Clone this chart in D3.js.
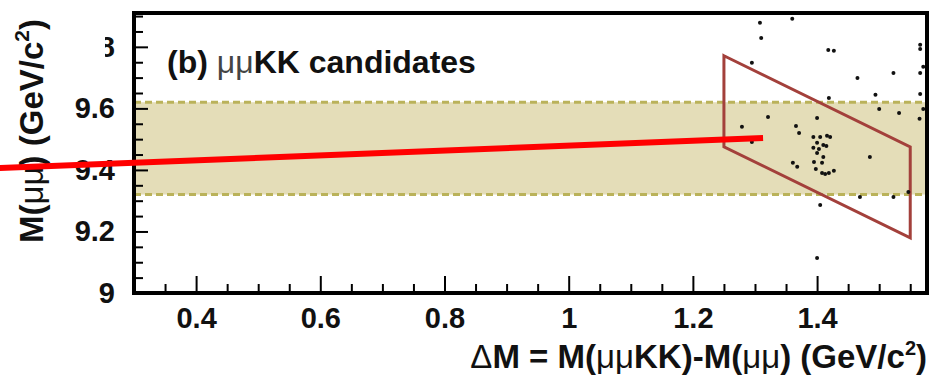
<!DOCTYPE html>
<html><head><meta charset="utf-8">
<script src="https://cdn.jsdelivr.net/npm/d3@7"></script>
<style>body{margin:0;background:#fff}</style>
</head><body>
<svg id="chart" width="930" height="385"></svg>
<script>
// Axis ranges and ticks
const xDomain = [0.3, 1.577];
const yDomain = [9.0, 9.91];
const xMajorTicks = [0.4, 0.6, 0.8, 1.0, 1.2, 1.4];
const xTickLabels = ["0.4", "0.6", "0.8", "1", "1.2", "1.4"];
const xMinorTicks = [0.35,0.45,0.5,0.55,0.65,0.7,0.75,0.85,0.9,0.95,1.05,1.1,1.15,1.25,1.3,1.35,1.45,1.5,1.55];
const yMajorTicks = [9.0, 9.2, 9.4, 9.6, 9.8];
const yTickLabels = ["9", "9.2", "9.4", "9.6", "9.8"];
const yMinorTicks = [9.05,9.1,9.15,9.25,9.3,9.35,9.45,9.5,9.55,9.65,9.7,9.75,9.85,9.9];

// Upsilon(1S) mass window on M(mumu)
const upsilonBand = [9.32, 9.62];

// Signal region: 1.25 < dM < 1.55, 10.725 < M(mumuKK) < 11.02 (corners in dM, M(mumu))
const signalBoxDM = [1.25, 1.55, 1.55, 1.25];
const signalBoxM  = [9.771, 9.475, 9.179, 9.475];

// Candidate events
const candDM = [1.308,1.360,1.310,1.418,1.427,1.295,1.566,1.566,1.571,1.523,1.566,1.465,1.494,1.566,1.419,1.500,1.532,1.571,1.565,1.400,1.321,1.279,1.366,1.371,1.295,1.394,1.405,1.416,1.421,1.400,1.410,1.415,1.394,1.403,1.400,1.410,1.395,1.408,1.361,1.368,1.398,1.408,1.413,1.419,1.427,1.485,1.547,1.469,1.523,1.405,1.400];
const candM  = [9.878,9.891,9.829,9.790,9.787,9.748,9.807,9.793,9.735,9.715,9.715,9.699,9.644,9.647,9.634,9.598,9.585,9.598,9.566,9.569,9.572,9.540,9.543,9.520,9.491,9.507,9.507,9.511,9.507,9.488,9.481,9.478,9.472,9.468,9.455,9.442,9.426,9.423,9.423,9.410,9.403,9.390,9.387,9.390,9.397,9.442,9.328,9.312,9.312,9.286,9.114];

// Highlight pointer line (dM, M(mumu)) end points
const pointerDM = [0.084, 1.313];
const pointerM  = [9.406, 9.504];

const svg = d3.select("#chart");
const plotL = 134, plotR = 927, plotT = 13, plotB = 293;
const x = d3.scaleLinear().domain(xDomain).range([plotL, plotR]);
const y = d3.scaleLinear().domain(yDomain).range([plotB, plotT]);

const FONT = "'Liberation Sans', Arial, sans-serif";

// Band
svg.append("rect")
  .attr("x", plotL).attr("width", plotR - plotL)
  .attr("y", y(upsilonBand[1])).attr("height", y(upsilonBand[0]) - y(upsilonBand[1]))
  .attr("fill", "#e4ddb8");
upsilonBand.forEach(v => {
  svg.append("line")
    .attr("x1", plotL).attr("x2", plotR)
    .attr("y1", y(v)).attr("y2", y(v))
    .attr("stroke", "#bab25a").attr("stroke-width", 3)
    .attr("stroke-dasharray", "7,4");
});

// Signal region outline
const boxPts = signalBoxDM.map((d, i) => [x(d), y(signalBoxM[i])]);
svg.append("path")
  .attr("d", d3.line()(boxPts) + "Z")
  .attr("fill", "none").attr("stroke", "#a3403b").attr("stroke-width", 3);

// Candidates
svg.append("g").selectAll("circle")
  .data(candDM.map((d, i) => [d, candM[i]]))
  .join("circle")
  .attr("cx", d => x(d[0])).attr("cy", d => y(d[1]))
  .attr("r", 2).attr("fill", "#111");

// Axes with inward ticks
const xAxis = svg.append("g").attr("transform", `translate(0,${plotB})`)
  .call(d3.axisBottom(x).tickValues(xMajorTicks)
    .tickFormat((d, i) => xTickLabels[i]).tickSize(-17).tickPadding(14));
const xMinor = svg.append("g").attr("transform", `translate(0,${plotB})`)
  .call(d3.axisBottom(x).tickValues(xMinorTicks).tickFormat("").tickSize(-9));
const yAxis = svg.append("g").attr("transform", `translate(${plotL},0)`)
  .call(d3.axisLeft(y).tickValues(yMajorTicks)
    .tickFormat((d, i) => yTickLabels[i]).tickSize(-14).tickPadding(19));
const yMinor = svg.append("g").attr("transform", `translate(${plotL},0)`)
  .call(d3.axisLeft(y).tickValues(yMinorTicks).tickFormat("").tickSize(-9));

[xAxis, xMinor, yAxis, yMinor].forEach(g => {
  g.select(".domain").remove();
  g.selectAll(".tick line").attr("stroke", "#000").attr("stroke-width", 2);
  g.selectAll(".tick text")
    .attr("font-family", FONT).attr("font-weight", "bold")
    .attr("font-size", 29).attr("fill", "#111");
});

// Top tick label is partly hidden behind the axis title area
// (clip rect is in the tick's own coordinates: origin at the tick position)
svg.append("clipPath").attr("id", "topLabelClip")
  .append("rect").attr("x", 105 - plotL).attr("y", -40).attr("width", 60).attr("height", 80);
yAxis.selectAll(".tick").filter(d => d === 9.8).select("text")
  .attr("clip-path", "url(#topLabelClip)");

// Frame
svg.append("rect")
  .attr("x", plotL).attr("y", plotT)
  .attr("width", plotR - plotL).attr("height", plotB - plotT)
  .attr("fill", "none").attr("stroke", "#000").attr("stroke-width", 4);

// Panel title
const title = svg.append("text")
  .attr("x", 167).attr("y", 73)
  .attr("font-family", FONT).attr("font-weight", "bold")
  .attr("font-size", 32).attr("fill", "#111");
title.append("tspan").text("(b) ");
title.append("tspan").attr("font-weight", "normal").attr("fill", "#444").text("\u03bc\u03bc");
title.append("tspan").text("KK candidates");

// X axis title
const xt = svg.append("text")
  .attr("x", 927).attr("y", 368).attr("text-anchor", "end")
  .attr("font-family", FONT).attr("font-weight", "bold")
  .attr("font-size", 33).attr("fill", "#111");
xt.append("tspan").attr("font-weight", "normal").text("\u0394");
xt.append("tspan").text("M = M(");
xt.append("tspan").attr("font-weight", "normal").text("\u03bc\u03bc");
xt.append("tspan").text("KK)-M(");
xt.append("tspan").attr("font-weight", "normal").text("\u03bc\u03bc");
xt.append("tspan").text(") (GeV/c");
xt.append("tspan").attr("font-size", 20).attr("dy", -13).text("2");
xt.append("tspan").attr("dy", 13).text(")");

// Y axis title
const yt = svg.append("text")
  .attr("transform", "translate(43,131) rotate(-90)")
  .attr("text-anchor", "middle")
  .attr("font-family", FONT).attr("font-weight", "bold")
  .attr("font-size", 33).attr("fill", "#111");
yt.append("tspan").text("M(");
yt.append("tspan").attr("font-weight", "normal").text("\u03bc\u03bc");
yt.append("tspan").text(") (GeV/c");
yt.append("tspan").attr("font-size", 21).attr("dy", -14).text("2");
yt.append("tspan").attr("dy", 14).text(")");

// Pointer line
svg.append("line")
  .attr("x1", x(pointerDM[0])).attr("y1", y(pointerM[0]))
  .attr("x2", x(pointerDM[1])).attr("y2", y(pointerM[1]))
  .attr("stroke", "#ff0000").attr("stroke-width", 6);
</script>
</body></html>
